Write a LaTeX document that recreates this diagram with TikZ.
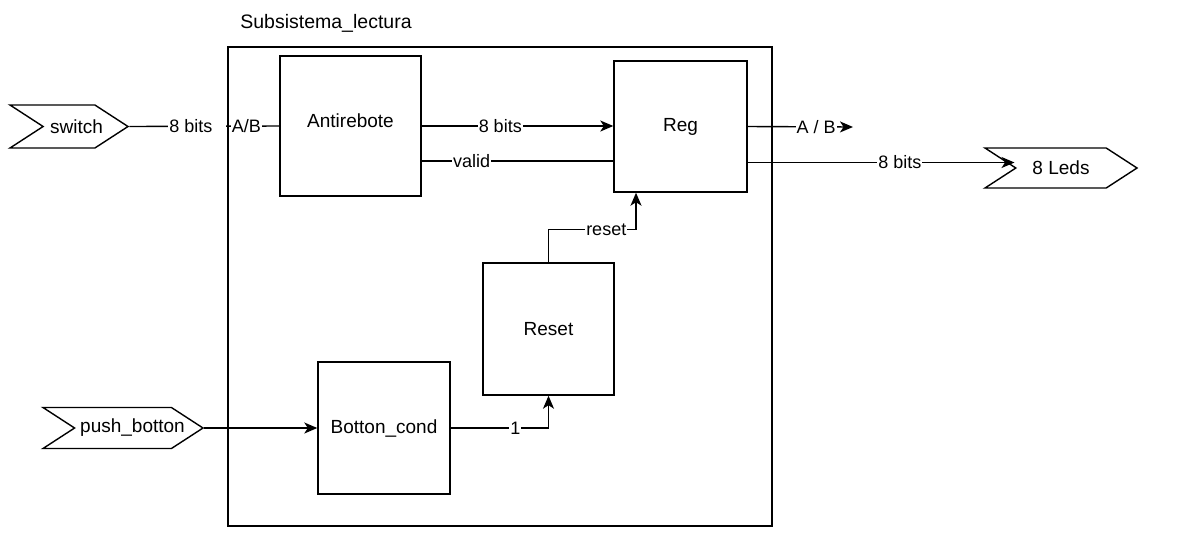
\documentclass[tikz,border=0pt]{standalone}
\usepackage{fontspec}
\setmainfont{Liberation Sans}
\usetikzlibrary{shapes.symbols,arrows.meta}

\def\wirewidth{1.4pt}

\begin{document}
\begin{tikzpicture}[x=1pt,y=-1pt,line width=\wirewidth,>={Stealth[length=13pt,width=11pt,inset=3.5pt]}]
    \tikzstyle{block}=[draw,rectangle,inner sep=0pt,font=\fontsize{19}{22}\selectfont]
    \tikzstyle{port}=[draw,signal,signal to=east,signal from=west,signal pointer angle=66,inner sep=0pt,font=\fontsize{19}{22}\selectfont]
    \tikzstyle{porttext}=[font=\fontsize{19}{22}\selectfont]
    \tikzstyle{lbl}=[fill=white,inner sep=1pt,font=\fontsize{18}{20}\selectfont]

    \useasboundingbox (0,0) rectangle (1185,558);

    % Draw the subsystem frame and its title
    \node[block,minimum width=544pt,minimum height=479pt] (sub) at (500,286.5) {};
    \node[font=\fontsize{19.5}{22}\selectfont] (title) at (326,23) {Subsistema\_lectura};

    % Draw the blocks inside the subsystem
    \node[block,minimum width=141pt,minimum height=140pt,text depth=10pt] (anti) at (350.5,126) {Antirebote};
    \node[block,minimum width=133pt,minimum height=131pt] (reg) at (680.5,126.5) {Reg};
    \node[block,minimum width=131pt,minimum height=132pt] (rst) at (548.5,329) {Reset};
    \node[block,minimum width=132pt,minimum height=132pt] (bcond) at (384,428) {Botton\_cond};

    % Draw the input and output ports
    \node[port,minimum width=118pt,minimum height=43pt,label={[porttext,xshift=7.5pt]center:switch}] (sw) at (69,126.5) {};
    \node[port,minimum width=160pt,minimum height=41pt,label={[porttext,xshift=9.5pt]center:push\_botton}] (push) at (123,428) {};
    \node[port,minimum width=152pt,minimum height=40pt] (leds) at (1061,168) {8 Leds};
    \coordinate (abend) at (853,127);

    % Connect the inputs to the subsystem
    \draw (sw.east) -- node[lbl,pos=0.454]{8 bits\kern13pt} node[lbl,pos=0.78]{A/B} (anti.west);
    \draw[->] (push.east) -- (bcond.west);

    % Connect the blocks
    \draw[->] (anti.east) -- node[lbl,pos=0.41]{8 bits} (anti.east -| reg.west);
    \draw ([yshift=-35pt]anti.east) coordinate (v) -- node[lbl,pos=0.26]{valid} (v -| reg.west);
    \draw[->] (bcond.east) -| node[lbl,pos=0.33]{1} (rst.south);
    \draw[->] (rst.north) -- ++(0,-33) -| node[lbl,pos=0.33]{reset} ([xshift=-44.5pt]reg.south);

    % Connect the outputs of the register
    \draw[->] (reg.east) -- node[lbl,pos=0.65]{A / B} (abend);
    \draw[->] ([yshift=-36pt]reg.east) coordinate (r) -- node[lbl,pos=0.57]{8 bits} (r -| leds.west);
\end{tikzpicture}
\end{document}
